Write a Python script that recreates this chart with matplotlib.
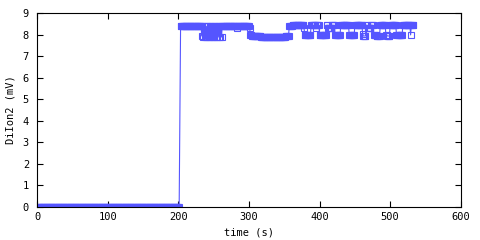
import numpy as np
import matplotlib
matplotlib.use('Agg')
import matplotlib.pyplot as plt

levels = [0.0, 4.2, 8.4,
          7.95, 8.4, 7.9, 8.4, 7.9, 8.4, 7.9, 8.4, 7.9, 8.4, 7.9, 8.4, 7.9, 8.4,
          7.9, 8.4, 7.9, 8.4, 7.9, 8.4, 7.9, 8.4, 7.9, 8.4, 7.9, 8.4, 7.9, 8.4, 7.9,
          8.4, 8.3, 8.4, 8.3, 8.0, 7.95, 7.9, 7.95, 8.4,
          8.45, 8.3, 8.0, 8.45, 8.3, 8.45, 8.0, 8.45, 8.3, 8.45, 8.0, 8.45, 8.0,
          8.45, 8.05, 7.95, 8.45, 8.3, 8.45, 8.0, 7.95, 8.45, 8.0, 7.95, 8.45,
          8.0, 8.45, 8.0, 8.45]
counts = [202, 1, 30,
          1, 1, 1, 1, 1, 1, 1, 1, 1, 1, 1, 1, 1, 1,
          1, 1, 1, 1, 1, 1, 1, 1, 1, 1, 1, 1, 1, 1, 1,
          21, 1, 17, 1, 2, 13, 35, 5, 5,
          16, 1, 9, 7, 1, 4, 10, 2, 5, 5, 8, 12, 8,
          11, 1, 4, 2, 5, 4, 4, 5, 8, 2, 4, 9,
          9, 11, 1, 4]

values = np.repeat(levels, counts)
times = np.arange(len(values))

x_ticks = [0, 100, 200, 300, 400, 500, 600]
y_ticks = [0, 1, 2, 3, 4, 5, 6, 7, 8, 9]

plt.rcParams['font.family'] = ['DejaVu Sans Mono']
plt.rcParams['font.size'] = 7.5

fig = plt.figure(figsize=(4.8, 2.4), dpi=100)
ax = fig.add_axes([0.0778, 0.139, 0.882, 0.805])

color = '#5555ff'
# no marker on the single mid-jump sample
show_marker = values != 4.2
ax.plot(times, values, color=color, linewidth=0.8, marker='s',
        markersize=4.2, markerfacecolor='none', markeredgecolor=color,
        markeredgewidth=0.8, markevery=list(show_marker))

ax.set_xlim(0, 600)
ax.set_ylim(0, 9)
ax.set_xticks(x_ticks)
ax.set_yticks(y_ticks)
ax.tick_params(direction='in', length=4, width=0.8, top=True, right=True,
               labelsize=7.5)
ax.tick_params(axis='x', pad=4)
ax.tick_params(axis='y', pad=6)
for s in ax.spines.values():
    s.set_linewidth(0.8)

ax.set_xlabel('time (s)', labelpad=4)
ax.set_ylabel('DiIon2 (mV)', labelpad=5)

fig.savefig('out.png', dpi=100)
